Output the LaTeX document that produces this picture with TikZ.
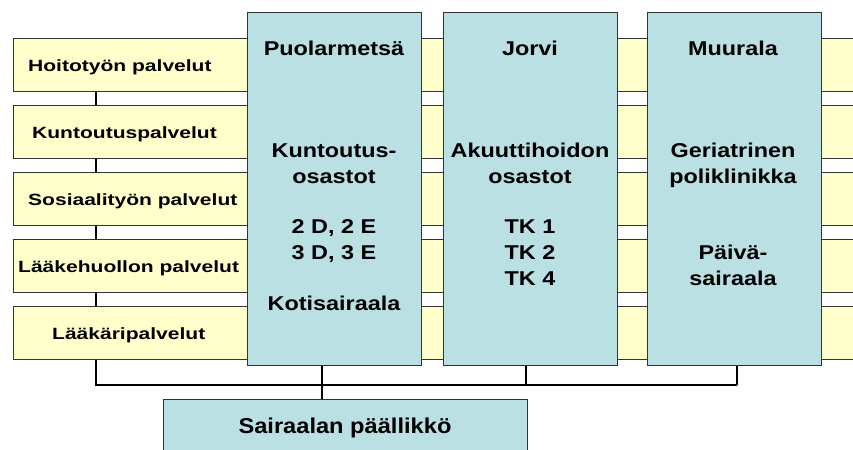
\documentclass[tikz,border=0pt]{standalone}
\usepackage{fontspec}
\newfontfamily\labfont{Liberation Sans}[FakeStretch=1.29]
\newfontfamily\boxfont{Liberation Sans}[FakeStretch=1.17]
\newfontfamily\bossfont{Liberation Sans}[FakeStretch=1.1]
\definecolor{bary}{HTML}{FFFFCC}
\definecolor{boxb}{HTML}{BBE0E3}
\definecolor{edgec}{HTML}{333333}
\begin{document}
\begin{tikzpicture}[x=1bp,y=-1bp,
  bar/.style={draw=edgec, line width=1bp, fill=bary, rectangle, inner sep=0pt, anchor=north west, minimum width=860bp, minimum height=53bp},
  unit/.style={draw=edgec, line width=1bp, fill=boxb, rectangle, inner sep=0pt, anchor=north west, minimum width=174bp, minimum height=353bp},
  boss/.style={draw=edgec, line width=1bp, fill=boxb, rectangle, inner sep=0pt, anchor=north west, minimum width=364bp, minimum height=80bp},
  lab/.style={inner sep=0pt, anchor=base west, font=\labfont\bfseries\fontsize{16.3bp}{19bp}\selectfont},
  btxt/.style={inner sep=0pt, anchor=base, font=\boxfont\bfseries\fontsize{20bp}{24bp}\selectfont},
  bosstxt/.style={inner sep=0pt, anchor=base, font=\bossfont\bfseries\fontsize{21.5bp}{26bp}\selectfont},
  conn/.style={draw=black, line width=1.8bp}]
\clip (0,0) rectangle (853,450);
% yellow service bars
\node[bar] (b1) at (13,38) {};
\node[bar] (b2) at (13,105) {};
\node[bar] (b3) at (13,172) {};
\node[bar] (b4) at (13,239) {};
\node[bar] (b5) at (13,306) {};
\node[lab] (l1) at (28,72) {Hoitotyön palvelut};
\node[lab] (l2) at (32,139) {Kuntoutuspalvelut};
\node[lab] (l3) at (28,206) {Sosiaalityön palvelut};
\node[lab] (l4) at (18,273) {Lääkehuollon palvelut};
\node[lab] (l5) at (52,340) {Lääkäripalvelut};
% connectors
\draw[conn] ([xshift=83bp]b1.south west) -- ([xshift=83bp]b2.north west);
\draw[conn] ([xshift=83bp]b2.south west) -- ([xshift=83bp]b3.north west);
\draw[conn] ([xshift=83bp]b3.south west) -- ([xshift=83bp]b4.north west);
\draw[conn] ([xshift=83bp]b4.south west) -- ([xshift=83bp]b5.north west);
\coordinate (bl) at (96,385);
\coordinate (br) at (737,385);
\node[unit] (pu) at (247,12) {};
\node[unit] (jo) at (443,12) {};
\node[unit] (mu) at (647,12) {};
\node[boss] (bo) at (163,399) {};
\draw[conn] ([xshift=83bp]b5.south west) -- (bl) -- (br);
\draw[conn] ([xshift=90bp]mu.south west) -- (br);
\draw[conn] ([xshift=83bp]jo.south west) -- ([xshift=83bp]jo.south west |- bl);
\draw[conn] ([xshift=75bp]pu.south west) -- ([xshift=75bp]pu.south west |- bo.north);
% Puolarmetsä texts
\node[btxt] (p0) at (334,56) {Puolarmetsä};
\node[btxt] (p4) at (334,158) {Kuntoutus-};
\node[btxt] (p5) at (334,183.5) {osastot};
\node[btxt] (p7) at (334,234) {2 D, 2 E};
\node[btxt] (p8) at (334,259.5) {3 D, 3 E};
\node[btxt] (p10) at (334,311) {Kotisairaala};
% Jorvi texts
\node[btxt] (j0) at (530,56) {Jorvi};
\node[btxt] (j4) at (530,158) {Akuuttihoidon};
\node[btxt] (j5) at (530,183.5) {osastot};
\node[btxt] (j7) at (530,234) {TK 1};
\node[btxt] (j8) at (530,259.5) {TK 2};
\node[btxt] (j9) at (530,285.5) {TK 4};
% Muurala texts
\node[btxt] (m0) at (733,56) {Muurala};
\node[btxt] (m4) at (733,158) {Geriatrinen};
\node[btxt] (m5) at (733,183.5) {poliklinikka};
\node[btxt] (m8) at (733,259.5) {Päivä-};
\node[btxt] (m9) at (733,285.5) {sairaala};
% chief
\node[bosstxt] (bt) at (345,433) {Sairaalan päällikkö};
\end{tikzpicture}
\end{document}
